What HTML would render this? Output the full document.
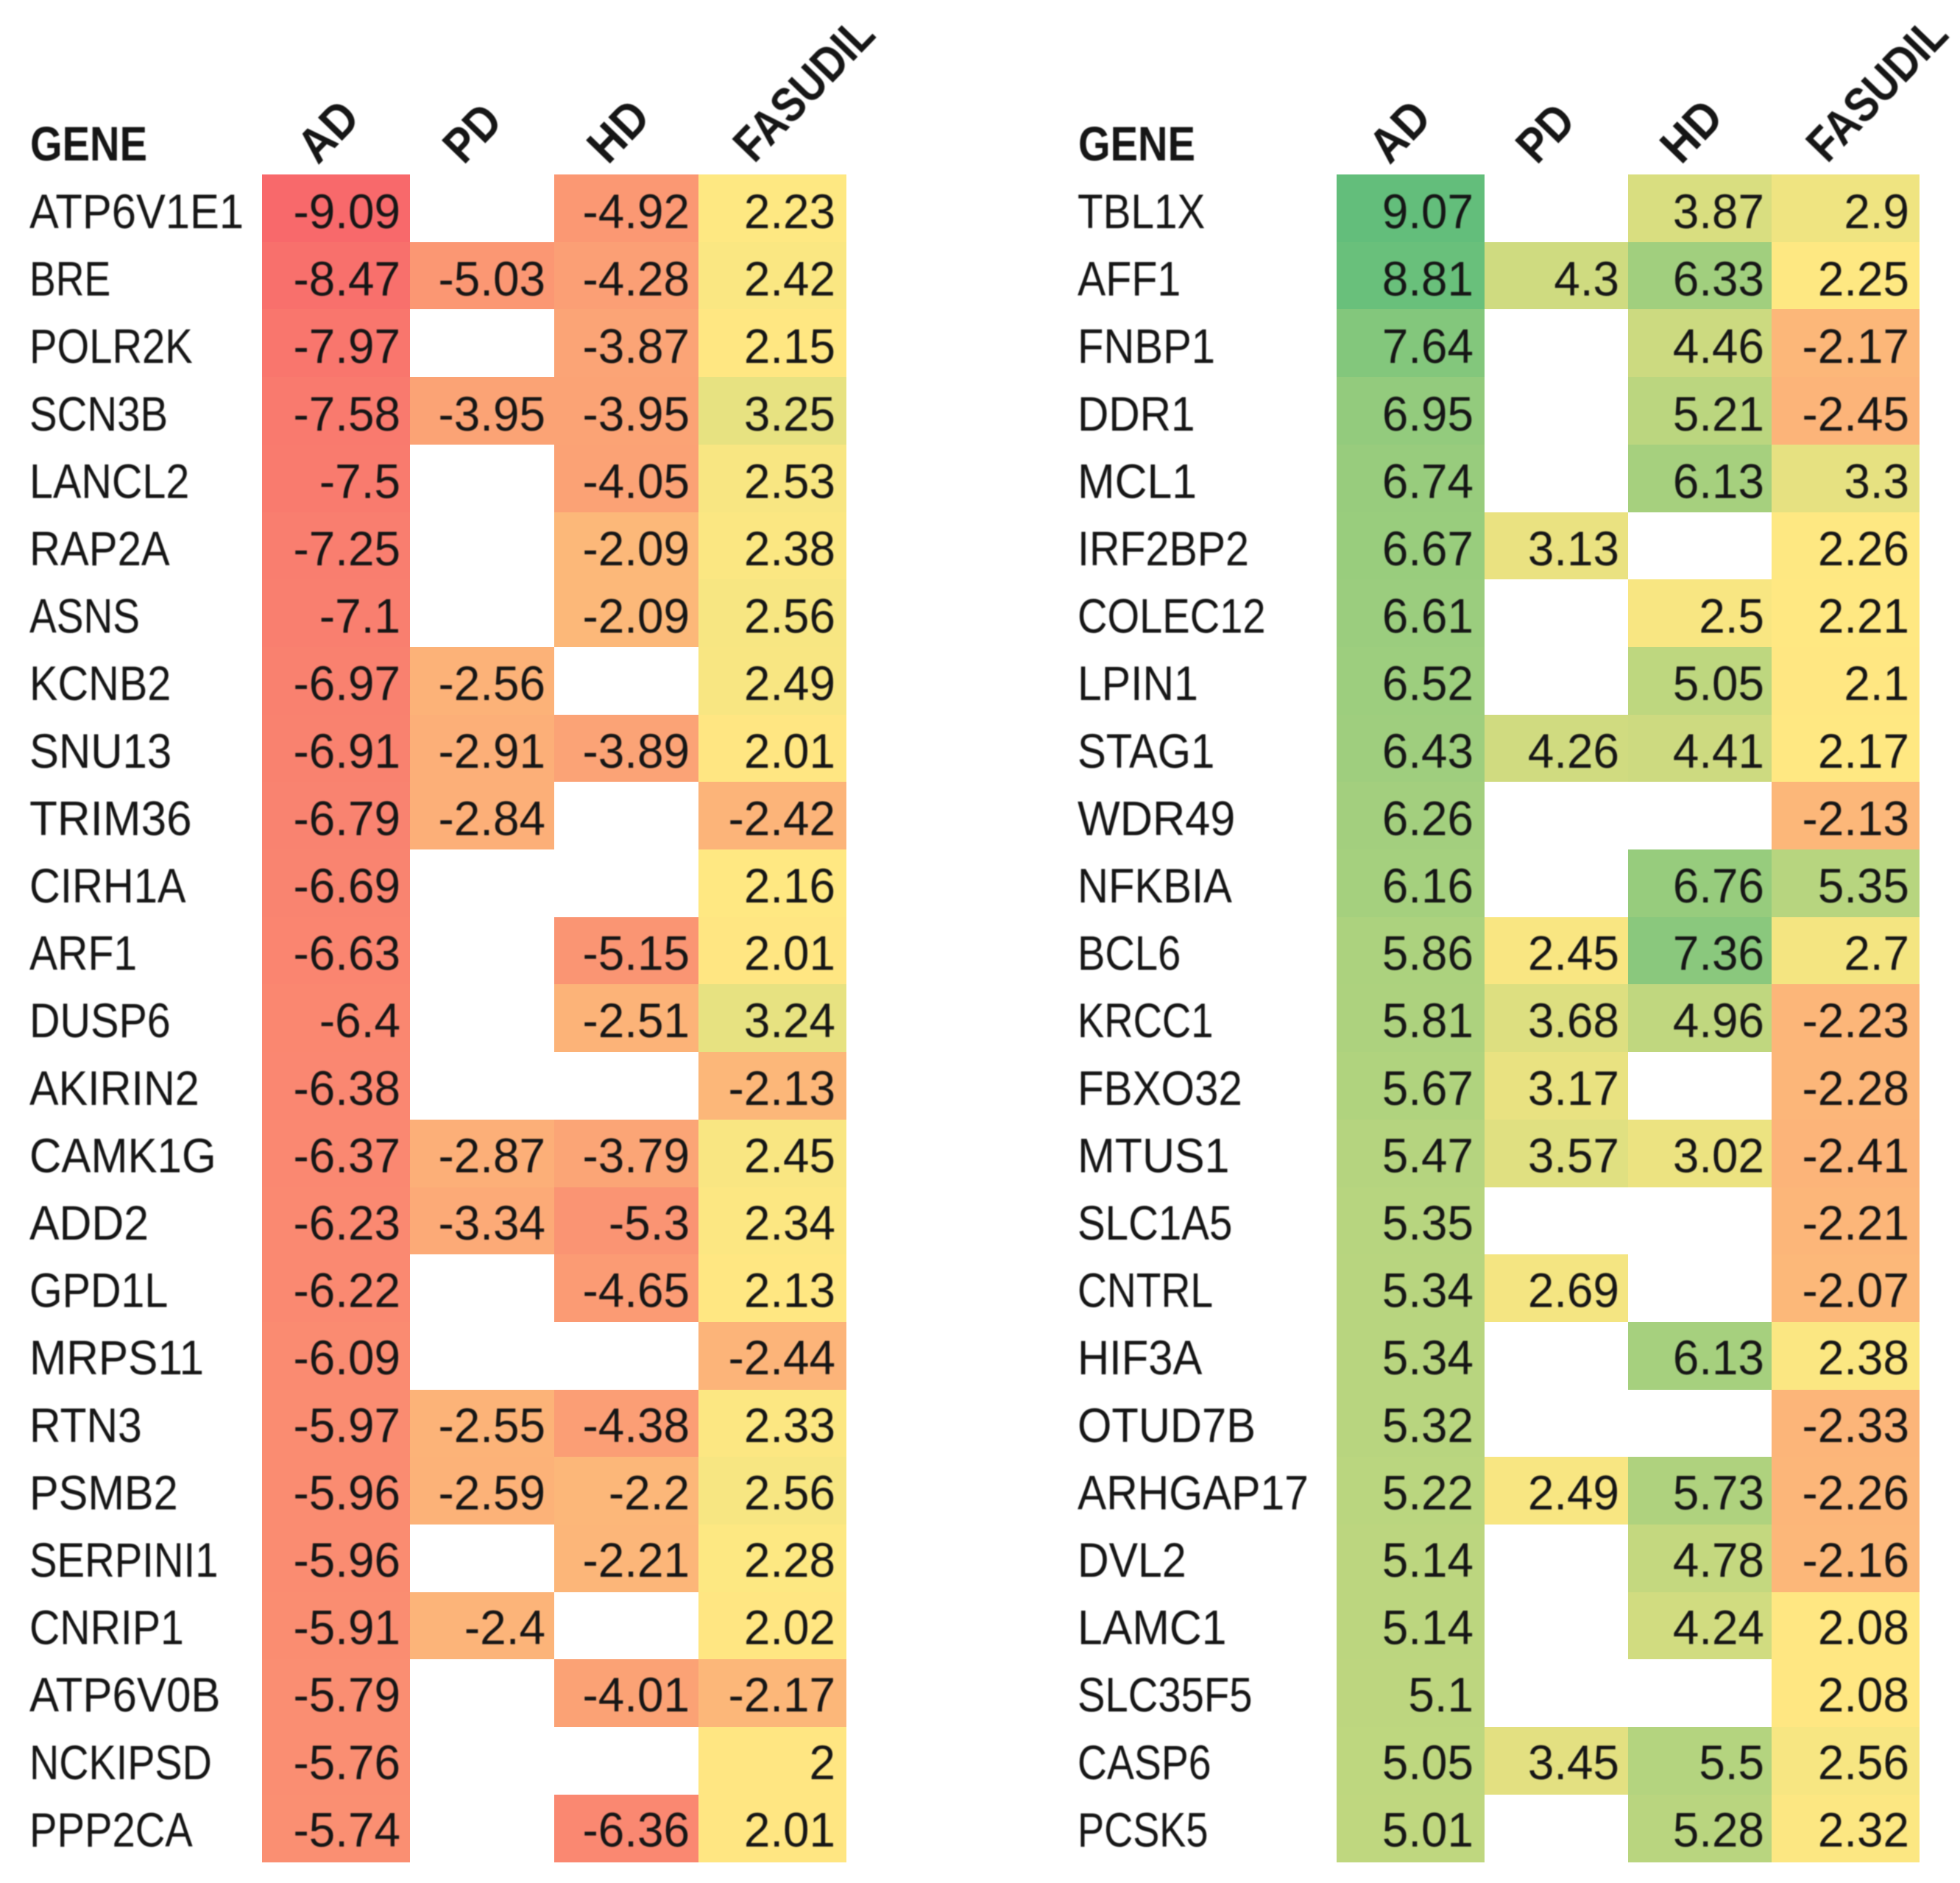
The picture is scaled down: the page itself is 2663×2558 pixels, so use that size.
<!DOCTYPE html>
<html lang="en">
<head>
<meta charset="utf-8">
<title>Gene expression heat tables</title>
<style>
html,body{margin:0;padding:0;background:#fff;width:2663px;height:2558px;overflow:hidden}
svg{display:block}
text{font-family:"Liberation Sans",Arial,sans-serif;fill:#161616}
#cells{shape-rendering:crispEdges}
.t{filter:blur(0.7px)}
</style>
</head>
<body>
<svg id="chart" xmlns="http://www.w3.org/2000/svg" width="2663" height="2558" viewBox="0 0 2663 2558">
<rect x="0" y="0" width="2663" height="2558" fill="#ffffff"/>
<g id="cells"></g>
<g id="labels" class="t"></g>
</svg>
<script>
const columnNames = ["AD", "PD", "HD", "FASUDIL"];

const leftGenes = ["ATP6V1E1","BRE","POLR2K","SCN3B","LANCL2","RAP2A","ASNS","KCNB2","SNU13","TRIM36","CIRH1A","ARF1","DUSP6","AKIRIN2","CAMK1G","ADD2","GPD1L","MRPS11","RTN3","PSMB2","SERPINI1","CNRIP1","ATP6V0B","NCKIPSD","PPP2CA"];
const leftAD = [-9.09,-8.47,-7.97,-7.58,-7.5,-7.25,-7.1,-6.97,-6.91,-6.79,-6.69,-6.63,-6.4,-6.38,-6.37,-6.23,-6.22,-6.09,-5.97,-5.96,-5.96,-5.91,-5.79,-5.76,-5.74];
const leftPD = [null,-5.03,null,-3.95,null,null,null,-2.56,-2.91,-2.84,null,null,null,null,-2.87,-3.34,null,null,-2.55,-2.59,null,-2.4,null,null,null];
const leftHD = [-4.92,-4.28,-3.87,-3.95,-4.05,-2.09,-2.09,null,-3.89,null,null,-5.15,-2.51,null,-3.79,-5.3,-4.65,null,-4.38,-2.2,-2.21,null,-4.01,null,-6.36];
const leftFasudil = [2.23,2.42,2.15,3.25,2.53,2.38,2.56,2.49,2.01,-2.42,2.16,2.01,3.24,-2.13,2.45,2.34,2.13,-2.44,2.33,2.56,2.28,2.02,-2.17,2,2.01];

const rightGenes = ["TBL1X","AFF1","FNBP1","DDR1","MCL1","IRF2BP2","COLEC12","LPIN1","STAG1","WDR49","NFKBIA","BCL6","KRCC1","FBXO32","MTUS1","SLC1A5","CNTRL","HIF3A","OTUD7B","ARHGAP17","DVL2","LAMC1","SLC35F5","CASP6","PCSK5"];
const rightAD = [9.07,8.81,7.64,6.95,6.74,6.67,6.61,6.52,6.43,6.26,6.16,5.86,5.81,5.67,5.47,5.35,5.34,5.34,5.32,5.22,5.14,5.14,5.1,5.05,5.01];
const rightPD = [null,4.3,null,null,null,3.13,null,null,4.26,null,null,2.45,3.68,3.17,3.57,null,2.69,null,null,2.49,null,null,null,3.45,null];
const rightHD = [3.87,6.33,4.46,5.21,6.13,null,2.5,5.05,4.41,null,6.76,7.36,4.96,null,3.02,null,null,6.13,null,5.73,4.78,4.24,null,5.5,5.28];
const rightFasudil = [2.9,2.25,-2.17,-2.45,3.3,2.26,2.21,2.1,2.17,-2.13,5.35,2.7,-2.23,-2.28,-2.41,-2.21,-2.07,2.38,-2.33,-2.26,-2.16,2.08,2.08,2.56,2.32];

const SVGNS = "http://www.w3.org/2000/svg";
const cellsGroup = document.getElementById("cells");
const labelsGroup = document.getElementById("labels");

const rowTop = 237, rowH = 91.7, textStep = 91.6, fontPx = 66, calibriPx = 70;
const sideColW = 201;

/* Advance widths (per 2048 em) used to fit the text to the narrower look of the original typeface */
const regularAdvance = {A:1185,B:1114,C:1092,D:1260,E:1000,F:941,G:1292,H:1276,I:516,J:653,K:1064,L:861,M:1751,N:1322,O:1356,P:1058,Q:1378,R:1112,S:941,T:998,U:1314,V:1162,W:1822,X:1063,Y:998,Z:959,".":517,"-":627};
function textWidth(s) {
  let u = 0;
  for (const ch of s) u += (ch >= "0" && ch <= "9") ? 1038 : (regularAdvance[ch] || 1038);
  return u / 2048 * calibriPx;
}
function headerLength(name) {
  if (name === "FASUDIL") return 241;
  if (name === "PD") return 80;
  if (name === "HD") return 87;
  return 86;
}

function lerp(a, b, t) { return Math.round(a + (b - a) * t); }
function mix(c1, c2, t) {
  return "rgb(" + lerp(c1[0], c2[0], t) + "," + lerp(c1[1], c2[1], t) + "," + lerp(c1[2], c2[2], t) + ")";
}
/* three-colour scale: red at the minimum, yellow near the midpoint, green at the maximum */
const scaleMin = -9.09, scaleMid = 2.2, scaleMax = 9.07;
const lowColor = [248,105,107], midColor = [255,232,130], highColor = [99,190,123];
function colorScale(v) {
  if (v <= scaleMid) return mix(lowColor, midColor, Math.max(0, (v - scaleMin) / (scaleMid - scaleMin)));
  return mix(midColor, highColor, Math.min(1, (v - scaleMid) / (scaleMax - scaleMid)));
}
function rowY(r) { return rowTop + r * rowH; }
function textY(r) { return rowTop + 73 + r * textStep; }

function drawPanel(prefix, genes, series, x0, midW, labelX, pads, headerAnchor) {
  const colLeft = function (c) {
    if (c === 0) return x0;
    return x0 + sideColW + (c - 1) * midW;
  };
  const colRight = function (c) {
    if (c === 3) return x0 + sideColW + 2 * midW + sideColW;
    return colLeft(c + 1);
  };

  const gene = document.createElementNS(SVGNS, "text");
  
  
  gene.setAttribute("x", labelX + 1);
  gene.setAttribute("y", 218);
  gene.setAttribute("font-size", fontPx);
  gene.setAttribute("font-weight", "bold");
  gene.setAttribute("textLength", 159);
  gene.setAttribute("lengthAdjust", "spacingAndGlyphs");
  gene.textContent = "GENE";
  labelsGroup.appendChild(gene);

  columnNames.forEach(function (name, c) {
    const head = document.createElementNS(SVGNS, "text");
    
    
    head.setAttribute("transform", "translate(" + headerAnchor(c) + " " + (name === "FASUDIL" ? 223 : 225) + ") rotate(-46)");
    head.setAttribute("font-size", fontPx);
    head.setAttribute("font-weight", "bold");
    head.setAttribute("textLength", headerLength(name));
    head.setAttribute("lengthAdjust", "spacingAndGlyphs");
    head.textContent = name;
    labelsGroup.appendChild(head);
  });

  genes.forEach(function (g, r) {
    const y = rowY(r);
    const lab = document.createElementNS(SVGNS, "text");
    
    
    lab.setAttribute("x", labelX);
    lab.setAttribute("y", textY(r));
    lab.setAttribute("font-size", fontPx);
    lab.setAttribute("textLength", textWidth(g).toFixed(1));
    lab.setAttribute("lengthAdjust", "spacingAndGlyphs");
    lab.textContent = g;
    labelsGroup.appendChild(lab);

    series.forEach(function (vals, c) {
      const v = vals[r];
      if (v === null) return;
      const cell = document.createElementNS(SVGNS, "rect");
      
      
      cell.setAttribute("x", colLeft(c));
      cell.setAttribute("y", Math.round(y));
      cell.setAttribute("width", colRight(c) - colLeft(c));
      cell.setAttribute("height", Math.round(rowY(r + 1)) - Math.round(y));
      cell.setAttribute("fill", colorScale(v));
      cellsGroup.appendChild(cell);

      const s = String(v);
      const w = textWidth(s);
      const val = document.createElementNS(SVGNS, "text");
      
      
      val.setAttribute("x", (colRight(c) - pads(c) - w).toFixed(1));
      val.setAttribute("y", textY(r));
      val.setAttribute("font-size", fontPx);
      val.setAttribute("textLength", w.toFixed(1));
      val.setAttribute("lengthAdjust", "spacingAndGlyphs");
      val.textContent = s;
      labelsGroup.appendChild(val);
    });
  });
}

drawPanel("left", leftGenes, [leftAD, leftPD, leftHD, leftFasudil], 356, 196, 40,
  function (c) { return c === 3 ? 15 : (c === 0 ? 13 : 12); },
  function (c) { return c === 0 ? 432 : (c === 1 ? 630 : (c === 2 ? 826 : 1024.5)); });

drawPanel("right", rightGenes, [rightAD, rightPD, rightHD, rightFasudil], 1816, 195, 1464,
  function (c) { return c === 3 ? 14 : (c === 0 ? 15 : (c === 1 ? 12 : 10)); },
  function (c) { return c === 0 ? 1888 : (c === 1 ? 2088 : (c === 2 ? 2284 : 2482.5)); });
</script>
</body>
</html>
